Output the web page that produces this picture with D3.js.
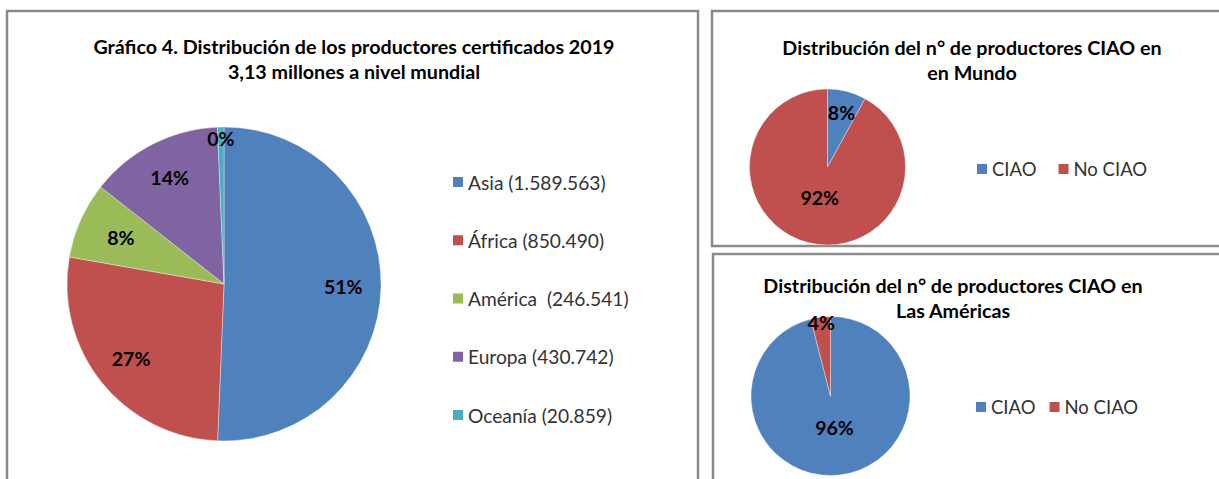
<!DOCTYPE html>
<html>
<head>
<meta charset="utf-8">
<script src="https://cdn.jsdelivr.net/npm/d3@7"></script>
<style>
  body { margin: 0; background: #fff; }
  svg { display: block; font-family: Lato, "Noto Sans", sans-serif; }
</style>
</head>
<body>
<script>

/* DATA */
const regions = ["Asia", "África", "América ", "Europa", "Oceanía"];
const producers = [1589563, 850490, 246541, 430742, 20859];
const regionPct = ["51%", "27%", "8%", "14%", "0%"];
const regionColors = ["#4F81BD", "#C0504D", "#9BBB59", "#8064A2", "#4BACC6"];

const ciaoCats = ["CIAO", "No CIAO"];
const ciaoColors = ["#4F81BD", "#C0504D"];
const worldCiao = [8, 92];
const americasCiao = [96, 4];

const mainTitle = ["Gráfico 4. Distribución de los productores certificados 2019", "3,13 millones a nivel mundial"];
const worldTitle = ["Distribución del n° de productores CIAO en", "en Mundo"];
const americasTitle = ["Distribución del n° de productores CIAO en", "Las Américas"];

/* CONSTANTS */
const WIDTH = 1219;
const HEIGHT = 479;

const svg = d3.select("body")
    .append("svg")
    .attr("width", WIDTH)
    .attr("height", HEIGHT);

const fmt = d3.formatLocale({decimal: ",", thousands: ".", grouping: [3], currency: ["", ""]}).format(",d");

// panel frames
const frames = [
    {x: 7, y: 11, w: 691, h: 490},
    {x: 712, y: 11, w: 530, h: 235},
    {x: 713, y: 254, w: 530, h: 260}
];
svg.selectAll("rect.frame")
    .data(frames)
    .enter()
    .append("rect")
    .attr("class", "frame")
    .attr("x", d => d.x)
    .attr("y", d => d.y)
    .attr("width", d => d.w)
    .attr("height", d => d.h)
    .attr("fill", "#fff")
    .attr("stroke", "#8a8a8a")
    .attr("stroke-width", 2.5);

function title(lines, cx, y0) {
    svg.append("text")
        .attr("text-anchor", "middle")
        .attr("font-weight", "bold")
        .attr("font-size", 19.7)
        .attr("fill", "#000")
        .selectAll("tspan")
        .data(lines)
        .enter()
        .append("tspan")
        .attr("x", cx)
        .attr("y", (d, i) => y0 + i * 25)
        .attr("dominant-baseline", "central")
        .text(d => d);
}

// label radius like Excel "best fit": tiny slices near the rim, huge slices near the centre
function labelFactor(frac) {
    if (frac < 0.05) return 0.93;
    if (frac > 0.85) return 0.4;
    if (frac < 0.1) return 0.72;
    return 0.76;
}

function pie(values, colors, labels, cx, cy, r) {
    const g = svg.append("g").attr("transform", `translate(${cx},${cy})`);
    const total = d3.sum(values);
    const arcs = d3.pie().sort(null).value(d => d)(values);
    const arc = d3.arc().innerRadius(0).outerRadius(r);

    g.selectAll("path")
        .data(arcs)
        .enter()
        .append("path")
        .attr("fill", (d, i) => colors[i])
        .attr("stroke", "#fff")
        .attr("stroke-opacity", 0.6)
        .attr("stroke-width", 0.6)
        .attr("d", arc);

    g.selectAll("text")
        .data(arcs)
        .enter()
        .append("text")
        .attr("transform", d => {
            const lr = r * labelFactor(d.value / total);
            const c = d3.arc().innerRadius(lr).outerRadius(lr).centroid(d);
            return `translate(${c[0]},${c[1]})`;
        })
        .attr("text-anchor", "middle")
        .attr("dominant-baseline", "central")
        .attr("font-weight", "bold")
        .attr("font-size", 19.5)
        .attr("fill", "#000")
        .text((d, i) => labels[i]);
}

/* LEFT: world distribution by region */
title(mainTitle, 354, 46);
pie(producers, regionColors, regionPct, 224, 284, 157);

const legendY = d3.scalePoint().domain(regions).range([182, 415]);
const legend = svg.append("g");
legend.selectAll("rect")
    .data(regions)
    .enter()
    .append("rect")
    .attr("x", 453)
    .attr("y", d => legendY(d) - 5)
    .attr("width", 10)
    .attr("height", 10)
    .attr("fill", (d, i) => regionColors[i]);
legend.selectAll("text")
    .data(regions)
    .enter()
    .append("text")
    .attr("x", 468)
    .attr("y", d => legendY(d))
    .attr("dominant-baseline", "central")
    .attr("font-size", 19.2)
    .attr("fill", "#333")
    .style("white-space", "pre")
    .text((d, i) => `${d} (${fmt(producers[i])})`);

/* RIGHT: CIAO share */
const pctFmt = d3.format(".0%");
function ciaoPanel(titleLines, tcx, ty, values, cx, cy, r, lx, ly, gap) {
    title(titleLines, tcx, ty);
    const total = d3.sum(values);
    pie(values, ciaoColors, values.map(v => pctFmt(v / total)), cx, cy, r);

    const lg = svg.append("g").attr("transform", `translate(${lx},${ly})`);
    let x = 0;
    ciaoCats.forEach((c, i) => {
        lg.append("rect")
            .attr("x", x)
            .attr("y", -5)
            .attr("width", 10)
            .attr("height", 10)
            .attr("fill", ciaoColors[i]);
        const t = lg.append("text")
            .attr("x", x + 15)
            .attr("y", 0)
            .attr("dominant-baseline", "central")
            .attr("font-size", 18.5)
            .attr("fill", "#333")
            .text(c);
        x += 15 + t.node().getComputedTextLength() + gap;
    });
}

ciaoPanel(worldTitle, 972, 47, worldCiao, 827.5, 167, 78, 977, 169, 22);
ciaoPanel(americasTitle, 953, 285, americasCiao, 830.5, 396, 79.5, 976, 407, 14);

</script>
</body>
</html>
